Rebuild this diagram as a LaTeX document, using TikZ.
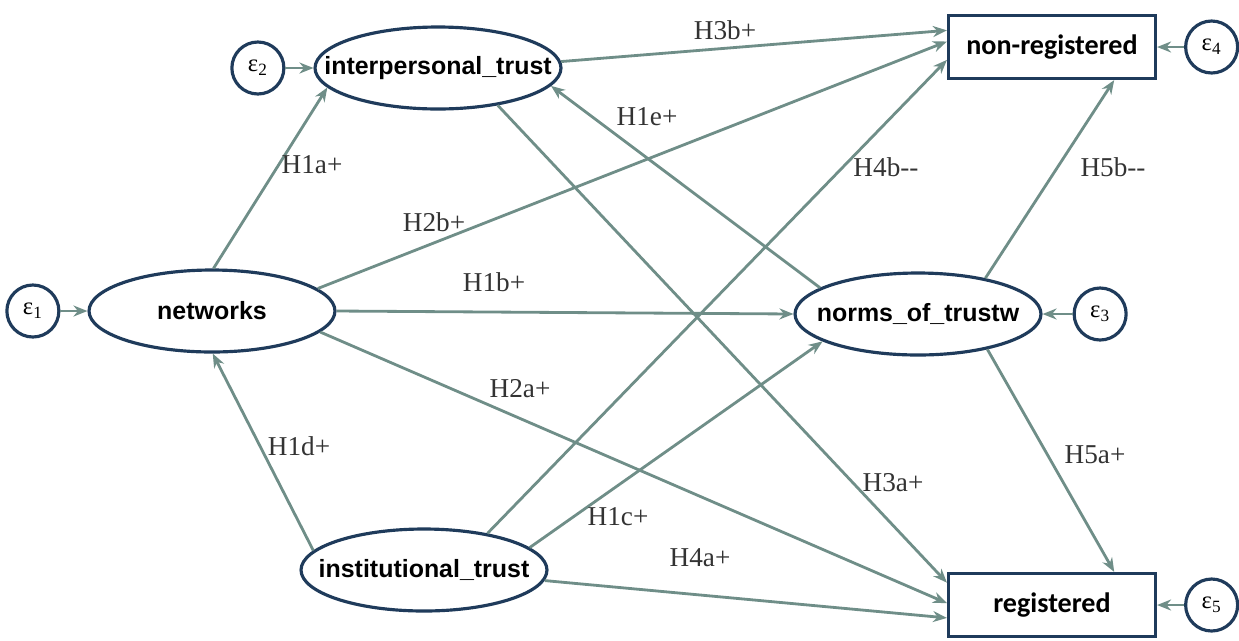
\documentclass[tikz,border=0pt]{standalone}
\usepackage{fontspec}
\setmainfont{Liberation Serif}
\newfontfamily\ellfont{Liberation Sans}
\newfontfamily\boxfont{Carlito}
\usetikzlibrary{shapes.geometric, positioning, arrows.meta}
\definecolor{edgegray}{HTML}{6F8E88}
\definecolor{nodeblue}{HTML}{1F3B5B}
\newcommand{\ltext}[1]{\makebox[0pt]{#1}}

\begin{document}
\begin{tikzpicture}[x=0.02cm, y=-0.02cm, thick]
    % Define block styles
    \tikzstyle{latent} = [ellipse, draw=nodeblue, line width=1.8pt, minimum width=4.92cm, minimum height=1.64cm, inner sep=0pt, font=\ellfont\bfseries\fontsize{14.2}{16}\selectfont]
    \tikzstyle{observed} = [rectangle, draw=nodeblue, line width=1.8pt, minimum width=4.14cm, minimum height=1.26cm, font=\boxfont\bfseries\fontsize{16}{18}\selectfont]
    \tikzstyle{err} = [circle, draw=nodeblue, line width=1.8pt, minimum size=1.04cm, inner sep=0pt, font=\fontsize{14}{16}\selectfont]
    \tikzstyle{link} = [draw=edgegray, line width=1.6pt, -{Stealth[length=2.8mm, width=2.2mm]}]
    \tikzstyle{hyp} = [text=black!80, font=\fontsize{15.5}{18}\selectfont, inner sep=1pt]
    \useasboundingbox (0,0) rectangle (1239,640);
    % Blocks and nodes
    \node [latent] (net) at (212,311) {\ltext{networks}};
    \node [latent] (inter) at (438,68) {\ltext{interpersonal\_trust}};
    \node [latent] (norms) at (918,314) {\ltext{norms\_of\_trustw}};
    \node [latent] (inst) at (424,570) {\ltext{institutional\_trust}};
    \node [observed] (nonreg) at (1052,47) {non-registered};
    \node [observed] (reg) at (1052,605) {registered};
    \node [err, left=.54cm of net] (e1) {ε\textsubscript{1}};
    \node [err, left=.56cm of inter] (e2) {ε\textsubscript{2}};
    \node [err, right=.6cm of norms] (e3) {ε\textsubscript{3}};
    \node [err, right=.54cm of nonreg] (e4) {ε\textsubscript{4}};
    \node [err, right=.54cm of reg] (e5) {ε\textsubscript{5}};

    % Connections
    \draw[link] (e1) -- (net);
    \draw[link] (e2) -- (inter);
    \draw[link] (e3) -- (norms);
    \draw[link] (e4) -- (nonreg);
    \draw[link] (e5) -- (reg);
    \draw[link] (net.88) -- (inter.190);
    \draw[link] (net.12) -- (nonreg.177);
    \draw[link] (net.east) -- (norms.west);
    \draw[link] (net.-11) -- (reg.179);
    \draw[link] (inst.170) -- (net.-89);
    \draw[link] (inst.30) -- (nonreg.187);
    \draw[link] (inst.12) -- (norms.196);
    \draw[link] (inst.-5) -- (reg.187);
    \draw[link] (inter.3) -- (nonreg.171);
    \draw[link] (inter.-32) -- (reg.168);
    \draw[link] (norms.165) -- (inter.-9);
    \draw[link] (norms.28) -- (nonreg.-28);
    \draw[link] (norms.-27) -- (reg.28);

    % Hypothesis labels
    \node [hyp] (l1a) at (312,165) {H1a+};
    \node [hyp] (l2b) at (434,222) {H2b+};
    \node [hyp] (l1b) at (494,282) {H1b+};
    \node [hyp] (l2a) at (520,389) {H2a+};
    \node [hyp] (l1d) at (299,446) {H1d+};
    \node [hyp] (l1c) at (618,517) {H1c+};
    \node [hyp] (l4a) at (700,558) {H4a+};
    \node [hyp] (l3b) at (725,30) {H3b+};
    \node [hyp] (l1e) at (647,117) {H1e+};
    \node [hyp] (l4b) at (886,167) {H4b-{}-};
    \node [hyp] (l5b) at (1113,167) {H5b-{}-};
    \node [hyp] (l3a) at (893,483) {H3a+};
    \node [hyp] (l5a) at (1095,455) {H5a+};
\end{tikzpicture}
\end{document}
